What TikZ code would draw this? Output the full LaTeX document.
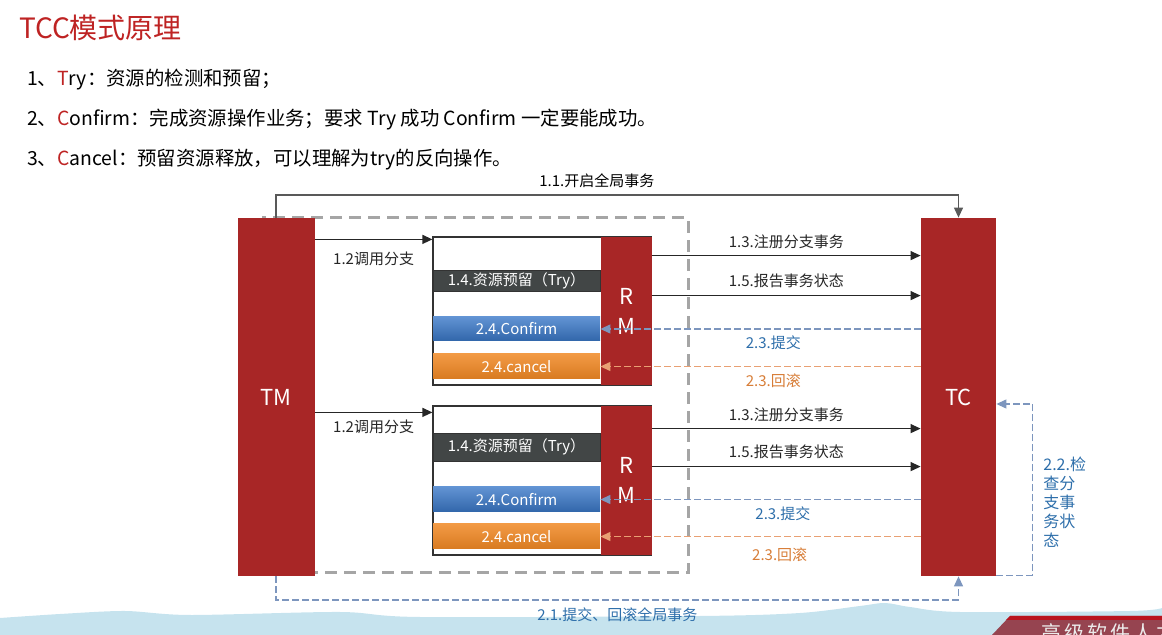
\documentclass[tikz,border=0pt]{standalone}
\usepackage{fontspec}
\setmainfont{Noto Sans CJK SC}
\usepackage{tikz}
\usetikzlibrary{calc}
\usetikzlibrary{arrows.meta}

\definecolor{boxred}{RGB}{168,38,38}
\definecolor{titlered}{RGB}{190,35,35}
\definecolor{trygray}{RGB}{66,70,70}
\definecolor{confblue}{RGB}{58,120,200}
\definecolor{cancelorange}{RGB}{240,136,36}
\definecolor{commitblue}{RGB}{125,150,190}
\definecolor{committext}{RGB}{45,110,170}
\definecolor{rollorange}{RGB}{232,160,115}
\definecolor{rolltext}{RGB}{215,125,55}
\definecolor{scopegray}{RGB}{165,165,165}
\definecolor{waveblue}{RGB}{198,227,238}
\definecolor{bannerred}{RGB}{150,68,80}
\definecolor{stripered}{RGB}{185,20,30}

\begin{document}
\begin{tikzpicture}[x=0.5pt, y=-0.5pt, >={Triangle[length=5pt,width=4.5pt]},
  redbox/.style={fill=boxred, text=white, inner sep=0pt, font=\fontsize{11}{15}\selectfont},
  bar/.style={minimum width=83.5pt, inner sep=0pt, text=white, font=\fontsize{7.5}{9}\selectfont},
  msg/.style={font=\fontsize{7.5}{9}\selectfont},
  callline/.style={->, line width=0.6pt, black!85},
  commitline/.style={->, commitblue, line width=0.6pt, dash pattern=on 3.5pt off 1.5pt},
  rollline/.style={->, rollorange, line width=0.6pt, dash pattern=on 3.5pt off 1.5pt}]
  \useasboundingbox (0,0) rectangle (1162,635);

  % Draw the light blue hills and the banner at the bottom
  \fill[waveblue] (0,618) plot[smooth] coordinates {(0,618) (60,614) (125,611) (190,615) (340,612) (420,617) (700,616) (800,613) (860,606) (885,603) (910,607) (960,612) (1130,611) (1162,608)} -- (1162,635) -- (0,635) -- cycle;
  \fill[bannerred] (992,635) -- (1010,616) -- (1162,616) -- (1162,635) -- cycle;
  \fill[stripered] (1010,616) -- (1162,616) -- (1162,620) -- (1006,620) -- cycle;
  \node[anchor=west, text=white!85!gray, font=\fontsize{10}{12}\selectfont] (mark) at (1034,633) {高\hspace{1.5pt}级\hspace{1.5pt}软\hspace{1.5pt}件\hspace{1.5pt}人\hspace{1.5pt}才};

  % Title and the three steps
  \node[anchor=west, text=titlered, font=\fontsize{14}{16}\selectfont] (title) at (12,28) {TCC模式原理};
  \node[anchor=west, font=\fontsize{9.7}{12}\selectfont] (step1) at (20,80) {1、\textcolor{titlered}{T}ry：资源的检测和预留；};
  \node[anchor=west, font=\fontsize{9.7}{12}\selectfont] (step2) at (20,120) {2、\textcolor{titlered}{C}onfirm：完成资源操作业务；要求 Try 成功 Confirm 一定要能成功。};
  \node[anchor=west, font=\fontsize{9.7}{12}\selectfont] (step3) at (20,160) {3、\textcolor{titlered}{C}ancel：预留资源释放，可以理解为try的反向操作。};

  % Draw the dashed scope behind TM
  \draw[scopegray, line width=1.5pt, dash pattern=on 6pt off 3.5pt] (262,218) rectangle (688,573);

  % TM and TC
  \node[redbox, minimum width=38.5pt, minimum height=179pt] (tm) at (276,397) {TM};
  \node[redbox, minimum width=37.5pt, minimum height=179pt] (tc) at (958.5,397) {TC};

  % First branch
  \node[draw=black!80, fill=white, line width=0.6pt, minimum width=109pt, minimum height=74pt, inner sep=0pt] (boxA) at (542,311) {};
  \node[redbox, align=center, minimum width=25.5pt, minimum height=74pt] (rmA) at (626,311) {R\\M};
  \node[bar, draw=black!80, fill=trygray, minimum height=10.5pt] (tryA) at (516.5,280.5) {1.4.资源预留（Try）};
  \node[bar, top color=confblue!80!white, bottom color=confblue!85!black, minimum height=12pt] (confA) at (516.5,329) {2.4.Confirm};
  \node[bar, top color=cancelorange!85!white, bottom color=cancelorange!90!black, minimum height=12.5pt] (cancelA) at (516.5,366.5) {2.4.cancel};

  % Second branch
  \node[draw=black!80, fill=white, line width=0.6pt, minimum width=109pt, minimum height=74.5pt, inner sep=0pt] (boxB) at (542,480.5) {};
  \node[redbox, align=center, minimum width=25.5pt, minimum height=74.5pt] (rmB) at (626,480.5) {R\\M};
  \node[bar, draw=black!80, fill=trygray, minimum height=14pt] (tryB) at (516.5,447) {1.4.资源预留（Try）};
  \node[bar, top color=confblue!80!white, bottom color=confblue!85!black, minimum height=12.5pt] (confB) at (516.5,499.5) {2.4.Confirm};
  \node[bar, top color=cancelorange!85!white, bottom color=cancelorange!90!black, minimum height=12.5pt] (cancelB) at (516.5,536.5) {2.4.cancel};

  % Rails above and below
  \coordinate (toprail) at (0,195);
  \coordinate (botrail) at (0,600);

  % 1.1 open the global transaction
  \draw[->, black!65, line width=0.6pt] (tm.north) -- (tm.north |- toprail) -- (tc.north |- toprail) node[msg, pos=0.47, above, text=black] {1.1.开启全局事务} -- (tc.north);

  % 1.2 call the branches
  \coordinate (callA) at ([yshift=-1.5pt]boxA.north west);
  \coordinate (callB) at ([yshift=-3.5pt]boxB.north west);
  \draw[callline] (callA -| tm.east) -- (callA) node[msg, midway, below=2.5pt] {1.2调用分支};
  \draw[callline] (callB -| tm.east) -- (callB) node[msg, midway, below] {1.2调用分支};

  % 1.3 and 1.5 from RM to TC
  \coordinate (regA) at ([yshift=-9.5pt]rmA.north east);
  \coordinate (repA) at ([yshift=-29.5pt]rmA.north east);
  \coordinate (regB) at ([yshift=-11.5pt]rmB.north east);
  \coordinate (repB) at ([yshift=-30.5pt]rmB.north east);
  \draw[callline] (regA) -- (regA -| tc.west) node[msg, midway, above] {1.3.注册分支事务};
  \draw[callline] (repA) -- (repA -| tc.west) node[msg, midway, above] {1.5.报告事务状态};
  \draw[callline] (regB) -- (regB -| tc.west) node[msg, midway, above] {1.3.注册分支事务};
  \draw[callline] (repB) -- (repB -| tc.west) node[msg, midway, above] {1.5.报告事务状态};

  % 2.3 commit or roll back the branches
  \draw[commitline] (confA.east -| tc.west) -- (confA.east) node[msg, pos=0.46, below, text=committext] {2.3.提交};
  \draw[rollline] (cancelA.east -| tc.west) -- (cancelA.east) node[msg, pos=0.46, below, text=rolltext] {2.3.回滚};
  \draw[commitline] (confB.east -| tc.west) -- (confB.east) node[msg, pos=0.43, below, text=committext] {2.3.提交};
  \draw[rollline] (cancelB.east -| tc.west) -- (cancelB.east) node[msg, pos=0.44, below=2pt, text=rolltext] {2.3.回滚};

  % 2.1 commit or roll back the global transaction
  \draw[commitline] (tm.south) -- (tm.south |- botrail) -- (tc.south |- botrail) node[msg, midway, below, text=committext] {2.1.提交、回滚全局事务} -- (tc.south);

  % 2.2 check the branch status
  \draw[commitline] ([yshift=0.5pt]tc.south east) -- ++(18pt,0) |- ([yshift=-3.5pt]tc.east);
  \node[msg, anchor=north west, align=left, inner sep=0pt, text=committext, font=\fontsize{8}{9.5}\selectfont] (check) at (1043,457) {2.2.检\\查分\\支事\\务状\\态};
\end{tikzpicture}
\end{document}
